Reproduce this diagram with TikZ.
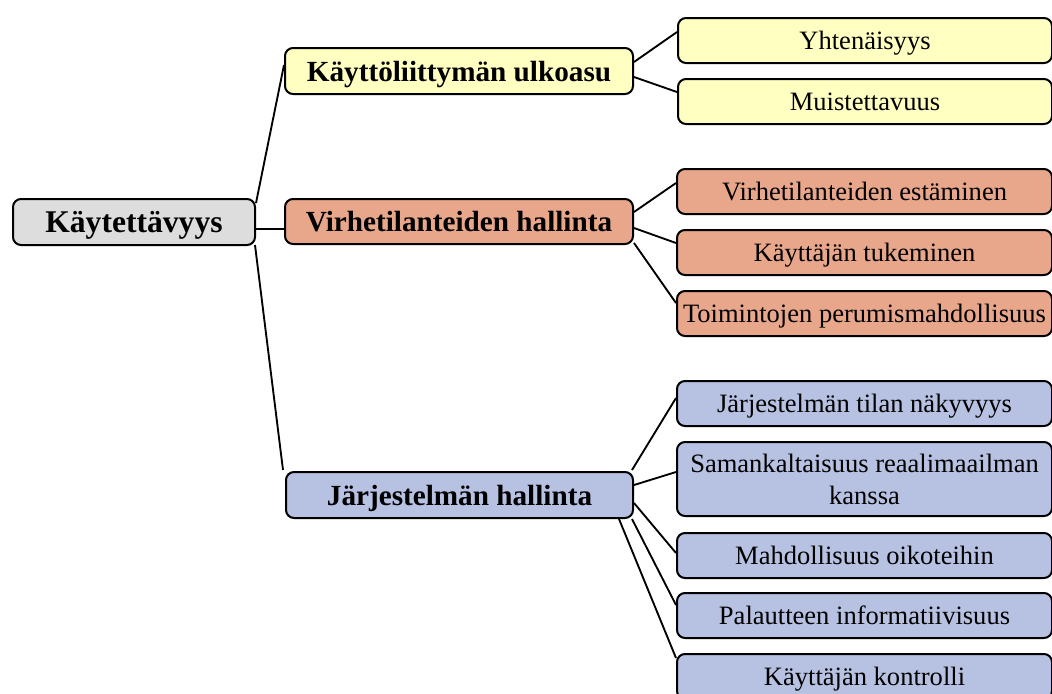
\documentclass[tikz,border=0pt]{standalone}
\usepackage{fontspec}
\setmainfont{Liberation Serif}
\usetikzlibrary{calc}
\definecolor{cgray}{RGB}{221,221,221}
\definecolor{cyel}{RGB}{255,255,194}
\definecolor{corg}{RGB}{232,166,138}
\definecolor{cblue}{RGB}{183,193,225}
\begin{document}
\begin{tikzpicture}[x=0.75pt,y=-0.75pt,
  box/.style={draw=black,line width=1.5pt,rounded corners=6pt,rectangle,inner sep=0pt,anchor=north west,align=center},
  rootbox/.style={box,fill=cgray,text depth=0pt,font=\fontsize{23.7}{28}\selectfont\bfseries},
  midbox/.style={box,text depth=0pt,font=\fontsize{21.9}{26}\selectfont\bfseries},
  leafbox/.style={box,font=\fontsize{19.9}{24}\selectfont,minimum width=375*0.75pt,minimum height=45*0.75pt},
  oneline/.style={text depth=0pt},
  conn/.style={draw=black,line width=1.4pt}]
\clip (0,0) rectangle (1052,693);
\node[rootbox,minimum width=242*0.75pt,minimum height=46*0.75pt] (root) at (12,198) {Käytettävyys};
\node[midbox,fill=cyel,minimum width=348*0.75pt,minimum height=46*0.75pt] (ulk) at (284,47) {Käyttöliittymän ulkoasu};
\node[midbox,fill=corg,minimum width=348*0.75pt,minimum height=45*0.75pt] (vir) at (284,198) {Virhetilanteiden hallinta};
\node[midbox,fill=cblue,minimum width=347*0.75pt,minimum height=46*0.75pt] (jar) at (285,471) {Järjestelmän hallinta};
\node[leafbox,oneline,fill=cyel,minimum width=374*0.75pt] (y1) at (677,17) {Yhtenäisyys};
\node[leafbox,oneline,fill=cyel,minimum width=374*0.75pt] (y2) at (677,78) {Muistettavuus};
\node[leafbox,oneline,fill=corg] (o1) at (676,168) {Virhetilanteiden estäminen};
\node[leafbox,oneline,fill=corg] (o2) at (676,229) {Käyttäjän tukeminen};
\node[leafbox,oneline,fill=corg] (o3) at (676,290) {Toimintojen perumismahdollisuus};
\node[leafbox,oneline,fill=cblue] (b1) at (676,380) {Järjestelmän tilan näkyvyys};
\node[leafbox,fill=cblue,minimum height=74*0.75pt] (b2) at (676,441) {Samankaltaisuus reaalimaailman\\kanssa};
\node[leafbox,oneline,fill=cblue] (b3) at (676,532) {Mahdollisuus oikoteihin};
\node[leafbox,oneline,fill=cblue] (b4) at (676,592) {Palautteen informatiivisuus};
\node[leafbox,oneline,fill=cblue] (b5) at (676,653) {Käyttäjän kontrolli};
% root connectors
\draw[conn] ($(root.north east)+(0,5)$) -- ($(ulk.north west)+(0,18)$);
\draw[conn] ($(root.north east)+(0,31)$) -- ($(vir.north west)+(0,31)$);
\draw[conn] ($(root.south east)+(-1,-1)$) -- ($(jar.north west)+(-2,-1)$);
% ulkoasu
\draw[conn] ($(ulk.north east)+(0,15)$) -- ($(y1.north west)+(0,15)$);
\draw[conn] ($(ulk.north east)+(0,30)$) -- ($(y2.north west)+(0,14)$);
% virhe
\draw[conn] ($(vir.north east)+(0,14)$) -- ($(o1.north west)+(0,15)$);
\draw[conn] ($(vir.north east)+(0,30)$) -- ($(o2.north west)+(0,14)$);
\draw[conn] ($(vir.north east)+(0,45)$) -- ($(o3.north west)+(0,13)$);
% jarjestelma
\draw[conn] ($(jar.north east)+(-2,-1)$) -- ($(b1.north west)+(0,18)$);
\draw[conn] ($(jar.north east)+(0,14)$) -- ($(b2.north west)+(0,31)$);
\draw[conn] ($(jar.north east)+(0,32)$) -- ($(b3.north west)+(0,21)$);
\draw[conn] ($(jar.south east)+(-2,0)$) -- ($(b4.north west)+(0,13)$);
\draw[conn] ($(jar.south east)+(-15,0)$) -- ($(b5.north west)+(0,5)$);
\end{tikzpicture}
\end{document}
